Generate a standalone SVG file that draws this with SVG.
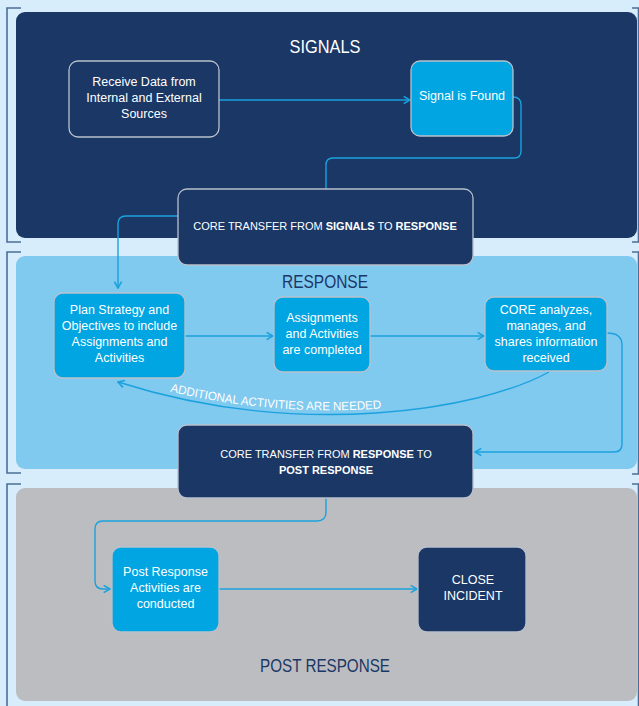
<svg xmlns="http://www.w3.org/2000/svg" width="639" height="706" viewBox="0 0 639 706">
<defs>
<style>
.br{fill:none;stroke:#4d6d97;stroke-width:1.6}
.nd{stroke:#b9c1cc;stroke-width:1.3}
.dk{fill:#1a3766}
.bl{fill:#00a5e1}
.t{font-family:"Liberation Sans",Arial,sans-serif;font-size:12.5px;fill:#ffffff;text-anchor:middle}
.tr{font-family:"Liberation Sans",Arial,sans-serif;font-size:11px;fill:#ffffff;text-anchor:middle}
.tt{font-family:"Liberation Sans",Arial,sans-serif;font-size:19px;text-anchor:middle}
.c{fill:none;stroke:#1ba2de;stroke-width:1.4}
</style>
<marker id="arr" viewBox="0 0 10 10" refX="9" refY="5" markerWidth="9" markerHeight="9" orient="auto" markerUnits="userSpaceOnUse">
<path d="M2,1 L9,5 L2,9" fill="none" stroke="#1ba2de" stroke-width="1.8"/>
</marker>
</defs>
<rect width="639" height="706" fill="#d7edfb"/>

<g id="brackets">
<path class="br" d="M21 8 H7 V242 H21"/>
<path class="br" d="M21 252 H7 V473 H21"/>
<path class="br" d="M21 484 H7 V710"/>
<path class="br" d="M632 8 H638.5 V242 H632"/>
<path class="br" d="M632 252 H638.5 V474 H632"/>
<path class="br" d="M632 484 H638.5 V710"/>
</g>

<g id="panel-signals">
<rect x="16" y="12" width="621" height="226" rx="9" fill="#1a3766"/>
<text class="tt" x="325" y="53" fill="#ffffff" textLength="71" lengthAdjust="spacingAndGlyphs">SIGNALS</text>
</g>
<g id="panel-response">
<rect x="16" y="256" width="621" height="213" rx="9" fill="#80c9ef"/>
<text class="tt" x="325" y="288" fill="#1a3766" textLength="86" lengthAdjust="spacingAndGlyphs">RESPONSE</text>
</g>
<g id="panel-post">
<rect x="16" y="488" width="621" height="213" rx="9" fill="#bcbdc0"/>
<text class="tt" x="325" y="672" fill="#1a3766" textLength="130" lengthAdjust="spacingAndGlyphs">POST RESPONSE</text>
</g>

<g id="connectors">
<path class="c" d="M219 100 H410" marker-end="url(#arr)"/>
<path class="c" d="M513 97 Q521 97 521 105 V151 Q521 158 514 158 H333 Q326 158 326 165 V189"/>
<path class="c" d="M178 216 H126 Q118 216 118 224 V288" marker-end="url(#arr)"/>
<path class="c" d="M185 336 H273" marker-end="url(#arr)"/>
<path class="c" d="M370 336 H484" marker-end="url(#arr)"/>
<path class="c" d="M607 333 Q622 333 622 345 V444 Q622 452 614 452 H475" marker-end="url(#arr)"/>
<path class="c" d="M549 372 C480 410 300 440 118 382" marker-end="url(#arr)"/>
<path id="lblpath" d="M117 381 C300 440 480 410 549 372" fill="none" stroke="none"/>
<text font-family="'Liberation Sans',Arial,sans-serif" font-size="12" fill="#ffffff" dy="-4"><textPath href="#lblpath" startOffset="54" textLength="214" lengthAdjust="spacingAndGlyphs">ADDITIONAL ACTIVITIES ARE NEEDED</textPath></text>
<path class="c" d="M326 498 V512 Q326 521 317 521 H103 Q95 521 95 529 V581 Q95 589 103 589 H110" marker-end="url(#arr)"/>
<path class="c" d="M219 589 H417" marker-end="url(#arr)"/>
</g>

<g id="node-receive">
<rect class="nd dk" x="69" y="61" width="150" height="76" rx="9"/>
<text class="t" x="144" y="86">Receive Data from</text>
<text class="t" x="144" y="102">Internal and External</text>
<text class="t" x="144" y="118">Sources</text>
</g>
<g id="node-signal">
<rect class="nd bl" x="411" y="61" width="102" height="75" rx="9"/>
<text class="t" x="462" y="100">Signal is Found</text>
</g>
<g id="node-transfer1">
<rect class="nd dk" x="178" y="189" width="295" height="76" rx="9"/>
<text class="tr" x="325" y="230">CORE TRANSFER FROM <tspan font-weight="bold">SIGNALS</tspan> TO <tspan font-weight="bold">RESPONSE</tspan></text>
</g>
<g id="node-plan">
<rect class="nd bl" x="54" y="293" width="131" height="85" rx="9"/>
<text class="t" x="119.5" y="314">Plan Strategy and</text>
<text class="t" x="119.5" y="330">Objectives to include</text>
<text class="t" x="119.5" y="346">Assignments and</text>
<text class="t" x="119.5" y="362">Activities</text>
</g>
<g id="node-assign">
<rect class="nd bl" x="274" y="297" width="96" height="75" rx="9"/>
<text class="t" x="322" y="322">Assignments</text>
<text class="t" x="322" y="338">and Activities</text>
<text class="t" x="322" y="354">are completed</text>
</g>
<g id="node-core">
<rect class="nd bl" x="485" y="297" width="122" height="74" rx="9"/>
<text class="t" x="546" y="314">CORE analyzes,</text>
<text class="t" x="546" y="330">manages, and</text>
<text class="t" x="546" y="346">shares information</text>
<text class="t" x="546" y="362">received</text>
</g>
<g id="node-transfer2">
<rect class="nd dk" x="178" y="425" width="295" height="73" rx="9"/>
<text class="tr" x="326" y="458">CORE TRANSFER FROM <tspan font-weight="bold">RESPONSE</tspan> TO</text>
<text class="tr" x="326" y="474" font-weight="bold">POST RESPONSE</text>
</g>
<g id="node-post">
<rect class="nd bl" x="112" y="547" width="107" height="85" rx="9"/>
<text class="t" x="165.5" y="576">Post Response</text>
<text class="t" x="165.5" y="592">Activities are</text>
<text class="t" x="165.5" y="608">conducted</text>
</g>
<g id="node-close">
<rect class="nd dk" x="418" y="547" width="108" height="85" rx="9"/>
<text class="t" x="473" y="584" font-size="12">CLOSE</text>
<text class="t" x="473" y="600" font-size="12">INCIDENT</text>
</g>
</svg>
